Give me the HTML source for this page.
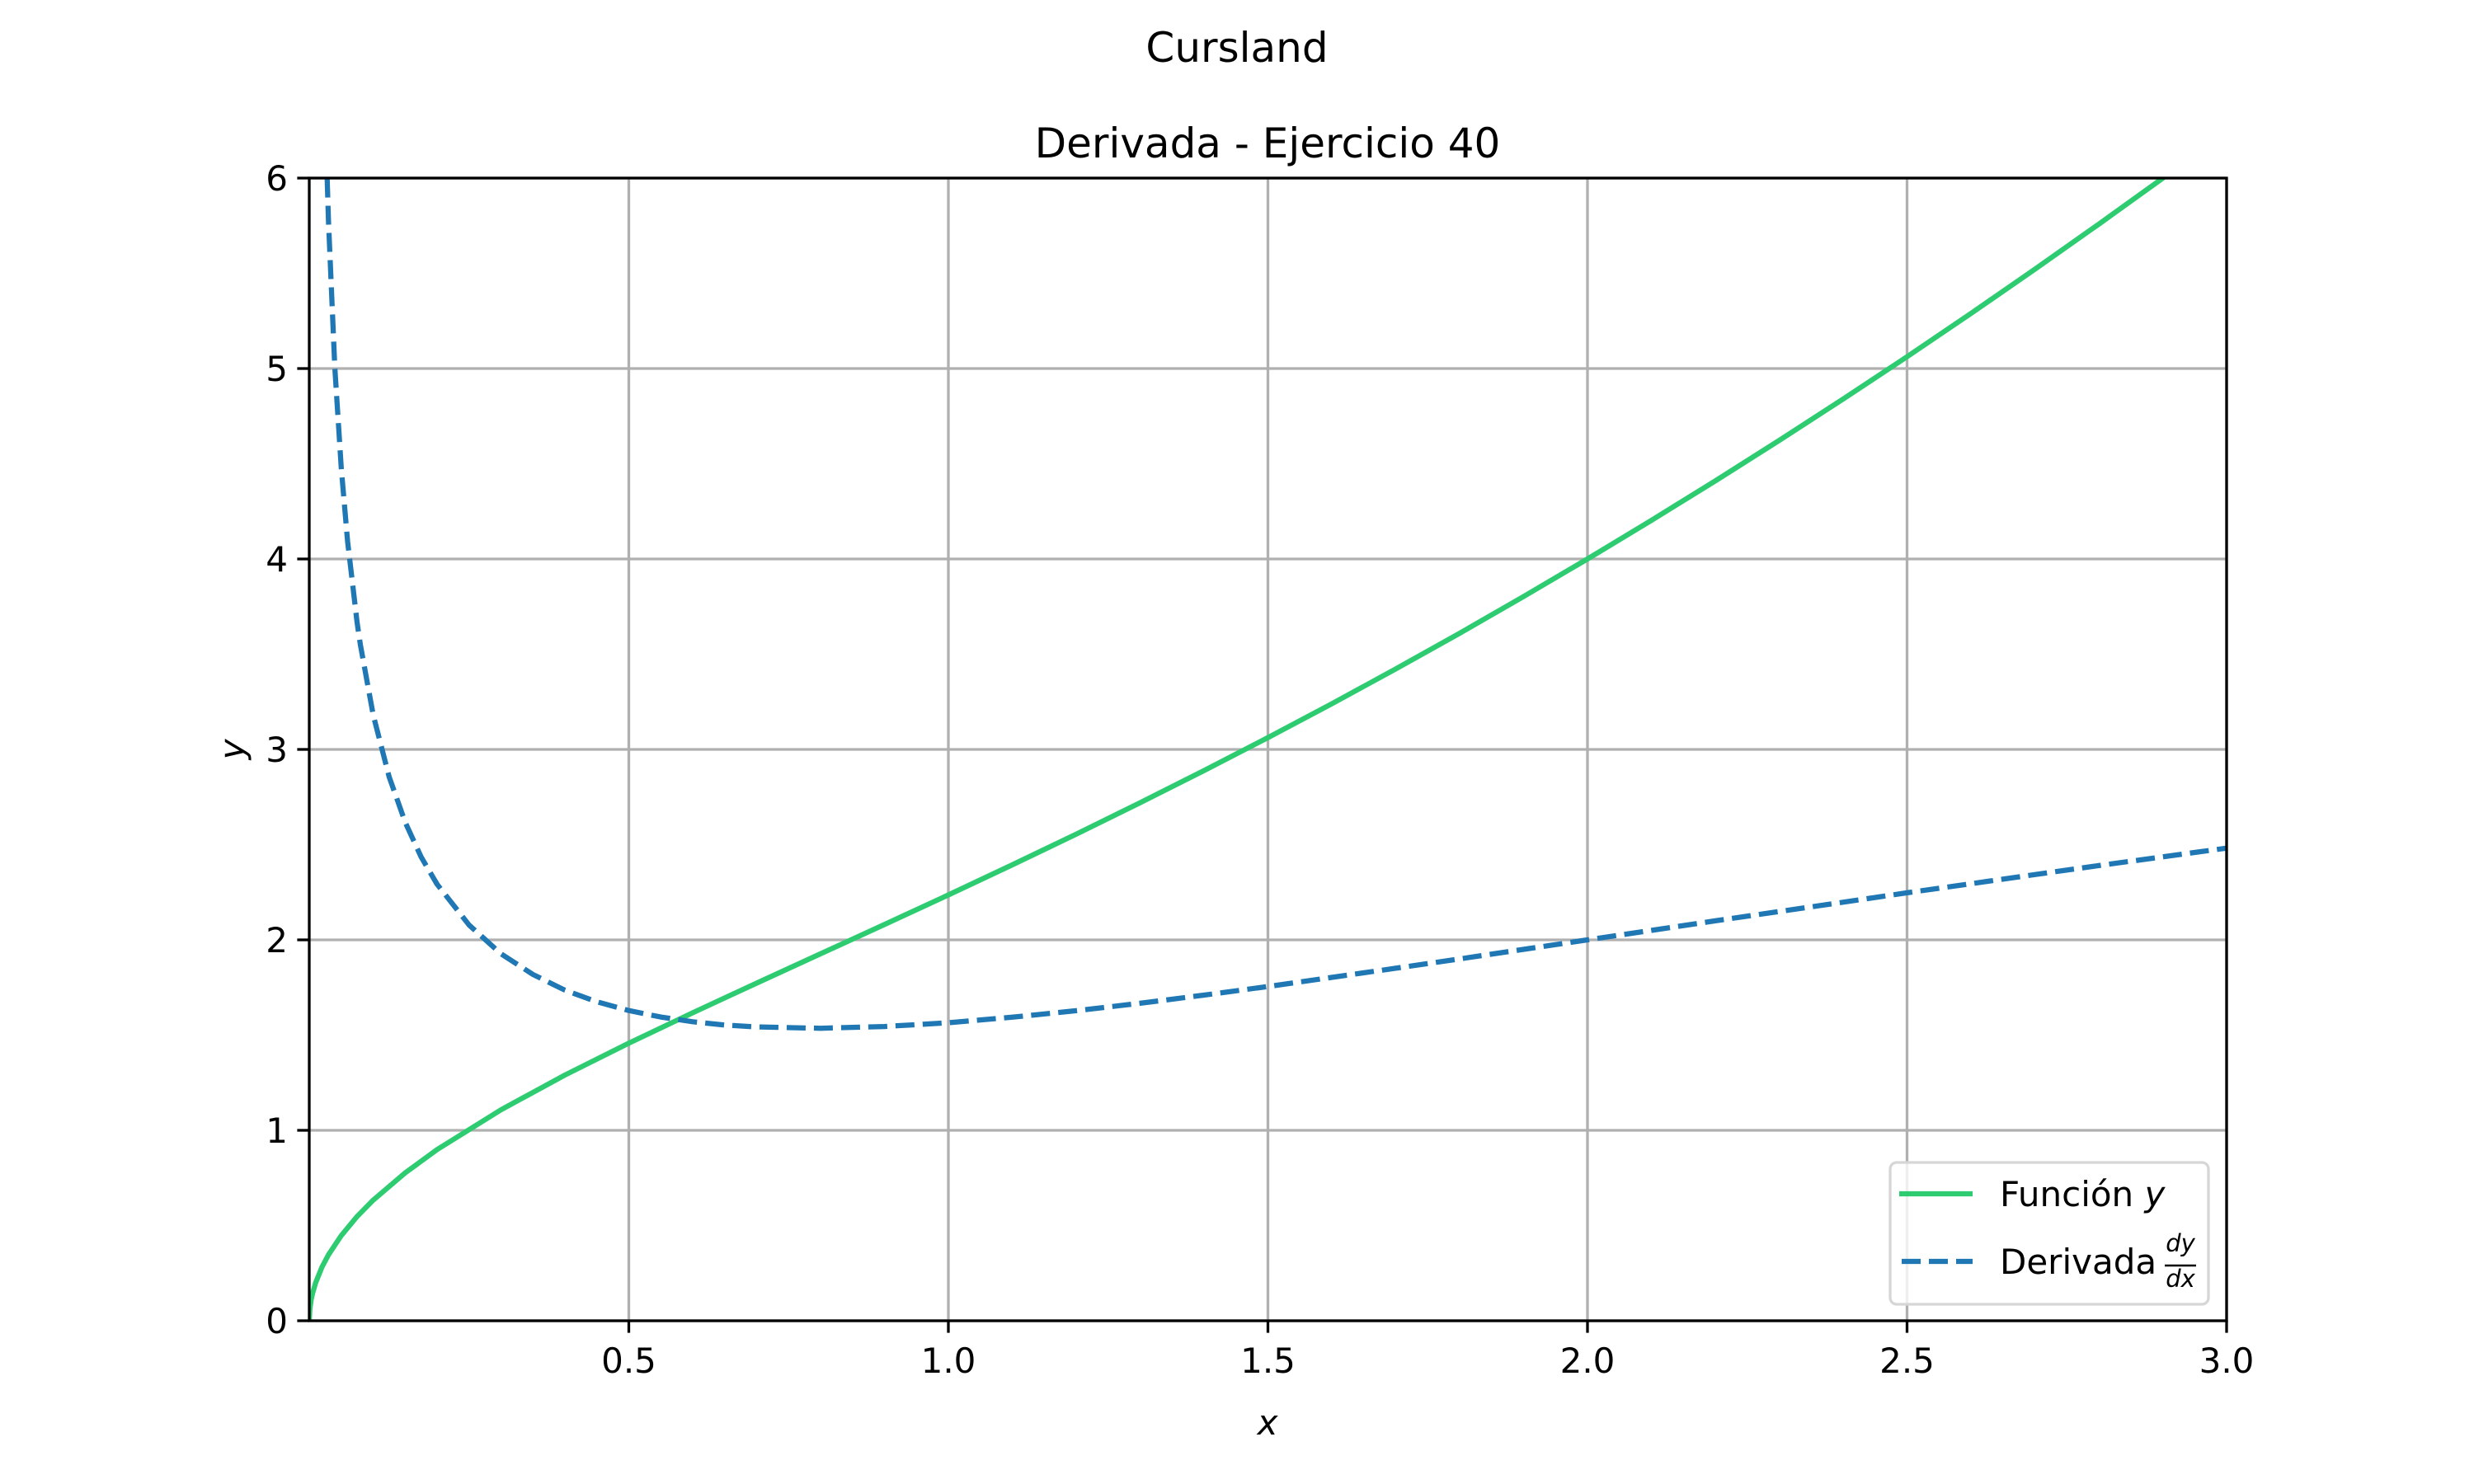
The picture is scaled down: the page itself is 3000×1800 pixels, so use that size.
<!DOCTYPE html>
<html><head><meta charset="utf-8"><style>
html,body{margin:0;padding:0;background:#fff;}
svg{display:block;font-family:"DejaVu Sans","Liberation Sans",sans-serif;}
</style></head><body>
<svg id="chart" width="3000" height="1800" viewBox="0 0 3000 1800">
<rect width="3000" height="1800" fill="#fff"/>
<text x="1500" y="75" font-size="50" text-anchor="middle">Cursland</text>
<text x="1537" y="191" font-size="50" text-anchor="middle">Derivada - Ejercicio 40</text>
<defs><clipPath id="clip"><rect x="375" y="216" width="2325" height="1386"/></clipPath></defs>
<g id="grid"></g>
<g id="series" clip-path="url(#clip)"></g>
<rect x="375" y="216" width="2325" height="1386" fill="none" stroke="#000" stroke-width="3.3"/>
<g id="ticks"></g>
<text x="1537" y="1740" font-size="42" font-style="italic" text-anchor="middle">x</text>
<text x="0" y="0" font-size="42" font-style="italic" text-anchor="middle" transform="translate(296,909) rotate(-90)">y</text>
<g>
<rect x="2292" y="1410" width="386" height="172" rx="8" fill="#fff" fill-opacity="0.8" stroke="#d6d6d6" stroke-width="3.3"/>
<line x1="2303" y1="1448" x2="2392" y2="1448" stroke="#2ecc71" stroke-width="6.25"/>
<text x="2425" y="1463" font-size="42">Función <tspan font-style="italic">y</tspan></text>
<line x1="2306" y1="1530" x2="2392" y2="1530" stroke="#1f77b4" stroke-width="6.25" stroke-dasharray="23,10"/>
<text x="2425" y="1545" font-size="42">Derivada</text>
<text x="2644" y="1518" font-size="29" font-style="italic" text-anchor="middle">dy</text>
<line x1="2625" y1="1535" x2="2663" y2="1535" stroke="#000" stroke-width="2.5"/>
<text x="2644" y="1561" font-size="29" font-style="italic" text-anchor="middle">dx</text>
</g>
</svg>
<script>
const xTicks = [0.5, 1.0, 1.5, 2.0, 2.5, 3.0];
const xTickLabels = ["0.5","1.0","1.5","2.0","2.5","3.0"];
const yTicks = [0,1,2,3,4,5,6];
const yTickLabels = ["0","1","2","3","4","5","6"];
const funcX = [0,0.001,0.003,0.005,0.01,0.02,0.03,0.05,0.075,0.1,0.15,0.2,0.3,0.4,0.5,0.6,0.7,0.8,0.9,1.0,1.1,1.2,1.3,1.4,1.5,1.6,1.7,1.8,1.9,2.0,2.1,2.2,2.3,2.4,2.5,2.6,2.7,2.8,2.9,3.0];
const funcY = [0,0.0632,0.1095,0.1414,0.2,0.2829,0.3465,0.4474,0.5481,0.6332,0.7768,0.8989,1.1077,1.29,1.4577,1.6174,1.7729,1.9267,2.0806,2.2361,2.3939,2.555,2.7197,2.8886,3.0619,3.2398,3.4224,3.61,3.8025,4.0,4.2025,4.41,4.6224,4.8398,5.0621,5.2892,5.5211,5.7578,5.999,6.245];
const derivX = [0.005,0.01,0.015,0.02,0.025,0.03,0.04,0.05,0.06,0.075,0.08,0.1,0.125,0.15,0.175,0.2,0.25,0.3,0.35,0.4,0.45,0.5,0.55,0.6,0.65,0.7,0.8,0.9,1.0,1.1,1.2,1.3,1.4,1.5,1.6,1.7,1.8,1.9,2.0,2.1,2.2,2.3,2.4,2.5,2.6,2.7,2.8,2.9,3.0];
const derivY = [14.14,10.0,8.166,7.07,6.327,5.776,5.005,4.479,4.092,3.664,3.550,3.182,2.856,2.618,2.436,2.292,2.078,1.927,1.818,1.736,1.675,1.629,1.595,1.570,1.553,1.543,1.536,1.545,1.565,1.594,1.628,1.667,1.710,1.755,1.803,1.851,1.900,1.950,2.0,2.050,2.100,2.149,2.198,2.247,2.295,2.343,2.390,2.436,2.482];

const NS = "http://www.w3.org/2000/svg";
const L=375,R=2700,T=216,B=1602, xMin=0,xMax=3,yMin=0,yMax=6;
const sx = v => L + (v-xMin)/(xMax-xMin)*(R-L);
const sy = v => B - (v-yMin)/(yMax-yMin)*(B-T);
function mk(tag, attrs, parent){const e=document.createElementNS(NS,tag);for(const k in attrs)e.setAttribute(k,attrs[k]);parent.appendChild(e);return e;}
const grid=document.getElementById('grid'), ticks=document.getElementById('ticks'), series=document.getElementById('series');
xTicks.forEach((v,i)=>{
  const g=mk('line',{x1:sx(v),x2:sx(v),y1:T,y2:B,stroke:'#b0b0b0','stroke-width':3.3},grid);
  
  
  const t=mk('line',{x1:sx(v),x2:sx(v),y1:B,y2:B+14.6,stroke:'#000','stroke-width':3.3},ticks);
  
  
  const l=mk('text',{x:sx(v),y:B+63,'font-size':42,'text-anchor':'middle'},ticks);
  l.textContent=xTickLabels[i];
  
  
});
yTicks.forEach((v,i)=>{
  const g=mk('line',{x1:L,x2:R,y1:sy(v),y2:sy(v),stroke:'#b0b0b0','stroke-width':3.3},grid);
  
  
  const t=mk('line',{x1:L-14.6,x2:L,y1:sy(v),y2:sy(v),stroke:'#000','stroke-width':3.3},ticks);
  
  
  const l=mk('text',{x:L-26,y:sy(v)+15,'font-size':42,'text-anchor':'end'},ticks);
  l.textContent=yTickLabels[i];
  
  
});
function pathD(xs,ys){return xs.map((x,i)=>(i?'L':'M')+sx(x).toFixed(1)+','+sy(ys[i]).toFixed(1)).join(' ');}
const p1=mk('path',{d:pathD(funcX,funcY),fill:'none',stroke:'#2ecc71','stroke-width':6.25,'stroke-linejoin':'round'},series);


const p2=mk('path',{d:pathD(derivX,derivY),fill:'none',stroke:'#1f77b4','stroke-width':6.25,'stroke-dasharray':'23,10','stroke-linejoin':'round'},series);


</script>
</body></html>
